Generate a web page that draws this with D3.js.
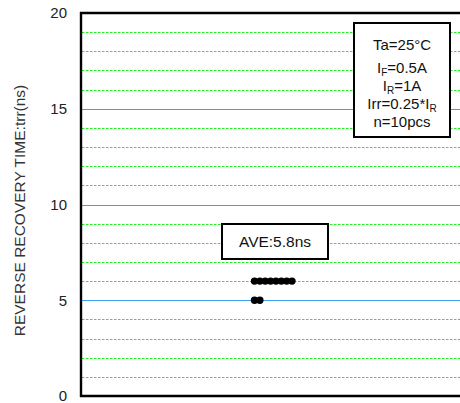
<!DOCTYPE html>
<html>
<head>
<meta charset="utf-8">
<script src="https://cdn.jsdelivr.net/npm/d3@7"></script>
<style>
  html, body { margin: 0; padding: 0; background: #fff; }
  svg { display: block; font-family: "Liberation Sans", Arial, sans-serif; }
</style>
</head>
<body>
<svg id="chart" width="460" height="403"></svg>
<script>
// ---- data ----
const samples = [5, 5, 6, 6, 6, 6, 6, 6, 6, 6];   // trr (ns), n = 10
const yTicks = [0, 5, 10, 15, 20];
const minorTicks = [1, 2, 3, 4, 6, 7, 8, 9, 11, 12, 13, 14, 16, 17, 18, 19];
const yTitle = "REVERSE RECOVERY TIME:trr(ns)";
const aveLabel = "AVE:5.8ns";
const conditions = [
  [["Ta=25°C", false]],
  [["I", false], ["F", true], ["=0.5A", false]],
  [["I", false], ["R", true], ["=1A", false]],
  [["Irr=0.25*I", false], ["R", true]],
  [["n=10pcs", false]]
];

// ---- layout ----
const svg = d3.select("#chart");
const mLeft = 81, mTop = 13, mBottom = 396, mRight = 470;

const y = d3.scaleLinear().domain([0, 20]).range([mBottom, mTop]);
// x: position of each sample within its stacked row
const x = d3.scaleLinear().domain([0, 7]).range([254.5, 292]);

// minor grid (green dotted)
svg.append("g").selectAll("line").data(minorTicks).join("line")
  .attr("x1", mLeft + 1).attr("x2", mRight)
  .attr("y1", d => Math.round(y(d)) + 0.5).attr("y2", d => Math.round(y(d)) + 0.5)
  .attr("stroke", "#22ee22").attr("stroke-width", 1)
  .attr("stroke-dasharray", "2.5,1.5");

// major grid (blue)
svg.append("g").selectAll("line").data(yTicks.filter(d => d > 0 && d < 20)).join("line")
  .attr("x1", mLeft + 1).attr("x2", mRight)
  .attr("y1", d => Math.round(y(d)) + 0.5).attr("y2", d => Math.round(y(d)) + 0.5)
  .attr("stroke", "#3ba0f0").attr("stroke-width", 1.2);

// frame: left axis, top and bottom border
svg.append("line").attr("x1", mLeft).attr("x2", mLeft).attr("y1", mTop - 1).attr("y2", mBottom + 1)
  .attr("stroke", "#000").attr("stroke-width", 2.4);
svg.append("line").attr("x1", mLeft - 1).attr("x2", mRight).attr("y1", mTop).attr("y2", mTop)
  .attr("stroke", "#000").attr("stroke-width", 2.4);
svg.append("line").attr("x1", mLeft - 1).attr("x2", mRight).attr("y1", mBottom).attr("y2", mBottom)
  .attr("stroke", "#000").attr("stroke-width", 2.4);

// y axis tick labels
const yAxis = d3.axisLeft(y).tickValues(yTicks).tickSize(0).tickPadding(14);
const gy = svg.append("g").attr("transform", `translate(${mLeft},0)`).call(yAxis);
gy.select(".domain").remove();
gy.selectAll("text").attr("font-size", 15).attr("fill", "#222")
  .attr("font-family", "Liberation Sans, Arial, sans-serif");

// y axis title
svg.append("text")
  .attr("transform", `translate(25,${(mTop + mBottom) / 2 + 6}) rotate(-90)`)
  .attr("text-anchor", "middle")
  .attr("font-size", 15.5).attr("fill", "#333")
  .text(yTitle);

// dots (stacked by rank within equal values)
const counts = {};
const pts = samples.map(v => { counts[v] = (counts[v] || 0); const r = counts[v]++; return { v, r }; });
svg.append("g").selectAll("circle").data(pts).join("circle")
  .attr("cx", d => x(d.r)).attr("cy", d => y(d.v))
  .attr("r", 3.7).attr("fill", "#000");

// AVE box
const ave = svg.append("g");
ave.append("rect").attr("x", 222).attr("y", 224).attr("width", 106).attr("height", 35)
  .attr("fill", "#fff").attr("stroke", "#000").attr("stroke-width", 2);
ave.append("text").attr("x", 275).attr("y", 247).attr("text-anchor", "middle")
  .attr("font-size", 15.5).attr("fill", "#111").text(aveLabel);

// conditions box
const cond = svg.append("g");
cond.append("rect").attr("x", 354).attr("y", 23).attr("width", 96).attr("height", 114)
  .attr("fill", "#fff").attr("stroke", "#000").attr("stroke-width", 2);
const baselines = [50, 72.5, 90.5, 108.5, 126.5];
conditions.forEach((parts, i) => {
  const t = cond.append("text").attr("x", 402).attr("y", baselines[i])
    .attr("text-anchor", "middle").attr("font-size", 15).attr("fill", "#111");
  parts.forEach(([s, sub]) => {
    const ts = t.append("tspan").text(s);
    if (sub) ts.attr("font-size", 10).attr("dy", 3.5);
    else if (t.selectAll("tspan").size() > 1) ts.attr("dy", -3.5);
  });
});
</script>
</body>
</html>
